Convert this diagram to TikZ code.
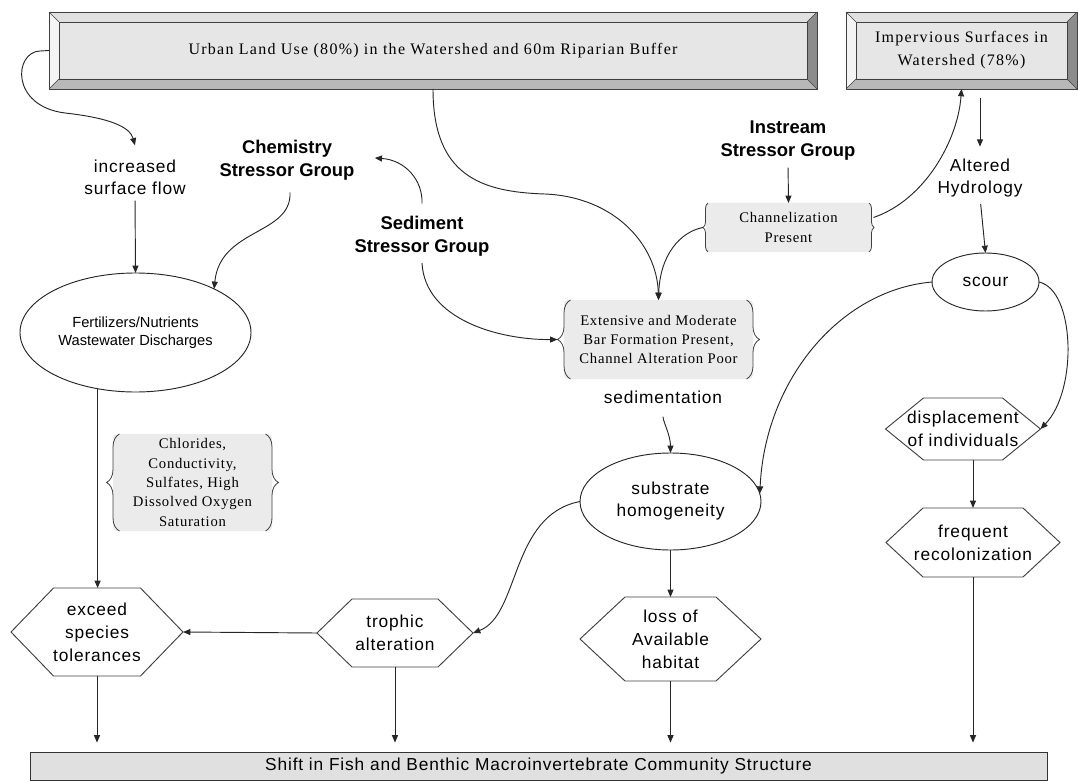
\documentclass[tikz,border=0pt]{standalone}
\usepackage{fontspec}
\setmainfont{Liberation Serif}
\newfontfamily\serifsp[LetterSpace=8]{Liberation Serif}
\newfontfamily\serifbr[LetterSpace=5]{Liberation Serif}
\newfontfamily\sanssp[LetterSpace=5]{Liberation Sans}
\newfontfamily\sansn{Liberation Sans}
\usetikzlibrary{shapes.geometric,arrows.meta,decorations.pathreplacing}

\definecolor{face}{HTML}{E6E6E6}
\definecolor{bvtop}{HTML}{E0E0E0}
\definecolor{bvleft}{HTML}{F4F4F4}
\definecolor{bvright}{HTML}{8C8C8C}
\definecolor{bvbot}{HTML}{B8B8B8}
\definecolor{brfill}{HTML}{EBEBEB}
\definecolor{barfill}{HTML}{E0E0E0}
\definecolor{edge}{HTML}{404040}

\tikzset{
 arr/.style={-{Triangle[length=5.5pt,width=4.5pt]}, line width=0.7pt, draw=black!85},
 lbl/.style={font=\fontsize{13}{16.5}\selectfont\sanssp, align=center, inner sep=0pt},
 grp/.style={font=\fontsize{13.8}{17.25}\selectfont\sansn\bfseries, align=center, inner sep=0pt},
 bevelbox/.style={fill=face, inner sep=0pt, outer sep=0pt, font=\fontsize{12}{17.25}\selectfont\serifsp, align=center},
 bracebox/.style={fill=brfill, rounded corners=3pt, inner sep=0pt, outer sep=0pt, font=\fontsize{11}{14.5}\selectfont\serifbr, align=center},
 ell/.style={ellipse, draw=black!85, line width=0.7pt, inner sep=0pt, outer sep=0pt, align=center},
 hexnode/.style={inner sep=0pt, outer sep=0pt, align=center, font=\fontsize{13}{17.25}\selectfont\sanssp},
 hexline/.style={draw=edge, line width=0.7pt, line join=miter},
 bracestroke/.style={draw=black!75, line width=0.6pt, decorate},
}

\newcommand\bevelframe[1]{%
 \fill[bvtop] (#1.north west) -- (#1.north east) -- ([shift={(-7.5pt,-7.5pt)}]#1.north east) -- ([shift={(7.5pt,-7.5pt)}]#1.north west) -- cycle;
 \fill[bvleft] (#1.north west) -- ([shift={(7.5pt,-7.5pt)}]#1.north west) -- ([shift={(7.5pt,7.5pt)}]#1.south west) -- (#1.south west) -- cycle;
 \fill[bvright] (#1.north east) -- ([shift={(-7.5pt,-7.5pt)}]#1.north east) -- ([shift={(-7.5pt,7.5pt)}]#1.south east) -- (#1.south east) -- cycle;
 \fill[bvbot] (#1.south west) -- ([shift={(7.5pt,7.5pt)}]#1.south west) -- ([shift={(-7.5pt,7.5pt)}]#1.south east) -- (#1.south east) -- cycle;
 \draw[edge, line width=0.6pt] (#1.north west) rectangle (#1.south east);
 \draw[edge, line width=0.6pt] ([shift={(7.5pt,-7.5pt)}]#1.north west) rectangle ([shift={(-7.5pt,7.5pt)}]#1.south east);
 \draw[edge, line width=0.5pt] (#1.north west) -- ([shift={(7.5pt,-7.5pt)}]#1.north west)
   (#1.north east) -- ([shift={(-7.5pt,-7.5pt)}]#1.north east)
   (#1.south west) -- ([shift={(7.5pt,7.5pt)}]#1.south west)
   (#1.south east) -- ([shift={(-7.5pt,7.5pt)}]#1.south east);
}
\newcommand\bracepair[2]{%
 \draw[bracestroke, decoration={brace, amplitude=#2}] ([xshift=0.5*#2]#1.south west) -- ([xshift=0.5*#2]#1.north west);
 \draw[bracestroke, decoration={brace, amplitude=#2}] ([xshift=-0.5*#2]#1.north east) -- ([xshift=-0.5*#2]#1.south east);
}
\newcommand\hexframe[2]{%
 \draw[hexline] (#1.west) -- ([xshift=#2]#1.north west) -- ([xshift=-#2]#1.north east) -- (#1.east) -- ([xshift=-#2]#1.south east) -- ([xshift=#2]#1.south west) -- cycle;
}

\begin{document}
\begin{tikzpicture}[x=0.75pt, y=-0.75pt]
\useasboundingbox (0,0) rectangle (1078,781);

% top boxes
\node[bevelbox, minimum width=576pt, minimum height=57.75pt] (urban) at (433,50.5) {Urban Land Use (80\%) in the Watershed and 60m Riparian Buffer};
\bevelframe{urban}
\node[bevelbox, minimum width=173.25pt, minimum height=57.75pt] (imperv) at (961.5,50.5) {Impervious Surfaces in\\Watershed (78\%)};
\bevelframe{imperv}

% labels
\node[lbl] (incr) at (135,177) {increased\\surface flow};
\node[grp] (chem) at (287,160) {Chemistry\\Stressor Group};
\node[grp] (instream) at (788,141) {Instream\\Stressor Group};
\node[grp] (sediment) at (422,236) {Sediment\\Stressor Group};
\node[lbl] (altered) at (980,178) {Altered\\Hydrology};
\node[lbl] (sedlab) at (663,397) {sedimentation};

% bracket boxes
\node[bracebox, minimum width=124.5pt, minimum height=36.75pt] (chan) at (788.5,227.5) {Channelization\\Present};
\bracepair{chan}{4pt}
\node[bracebox, minimum width=141.75pt, minimum height=59.25pt] (ext) at (658.5,339.5) {Extensive and Moderate\\Bar Formation Present,\\Channel Alteration Poor};
\bracepair{ext}{9.75pt}
\node[bracebox, minimum width=119.25pt, minimum height=72.75pt] (chl) at (192.5,482.5) {Chlorides,\\Conductivity,\\Sulfates, High\\Dissolved Oxygen\\Saturation};
\bracepair{chl}{9.75pt}

% ellipses
\node[ell, minimum width=173.25pt, minimum height=89.25pt, font=\fontsize{11}{13.5}\selectfont\sansn] (fert) at (135.5,332.5) {Fertilizers/Nutrients\\Wastewater Discharges};
\node[ell, minimum width=80.25pt, minimum height=43.5pt, font=\fontsize{13}{16.5}\selectfont\sanssp] (scour) at (985.5,282) {scour};
\node[ell, minimum width=135.75pt, minimum height=72.75pt, font=\fontsize{13}{16.5}\selectfont\sanssp] (subst) at (670.5,501.5) {substrate\\homogeneity};

% hexagons
\node[hexnode, minimum width=116.25pt, minimum height=46.5pt] (disp) at (963,429) {displacement\\of individuals};
\hexframe{disp}{28.5pt}
\node[hexnode, minimum width=130.5pt, minimum height=51.75pt] (freq) at (973,542.5) {frequent\\recolonization};
\hexframe{freq}{27.75pt}
\node[hexnode, minimum width=129pt, minimum height=66pt] (exceed) at (97,632) {exceed\\species\\tolerances};
\hexframe{exceed}{31.9pt}
\node[hexnode, minimum width=117pt, minimum height=51pt] (trophic) at (395,633) {trophic\\alteration};
\hexframe{trophic}{26.25pt}
\node[hexnode, minimum width=135.75pt, minimum height=63pt] (loss) at (670.5,639) {loss of\\Available\\habitat};
\hexframe{loss}{33.75pt}

% bottom bar
\node[draw=black!80, fill=barfill, line width=0.7pt, minimum width=762.75pt, minimum height=21.4pt, inner sep=0pt, font=\fontsize{13}{15}\selectfont\sanssp] (bar) at (538.5,766.3) {Shift in Fish and Benthic Macroinvertebrate Community Structure};

% connectors
\draw[arr] (urban.west) -- (40,51) .. controls (14,52) and (10,106) .. (65,113) .. controls (110,118) and (130,127) .. ([yshift=10.5pt]incr.north);
\draw[arr, shorten <=4.5pt] (incr.south) -- (fert.north);
\draw[arr] ([shift={(2.25pt,-9pt)}]chem.south) .. controls (292,235) and (220,228) .. (fert.29);
\draw[arr] ([yshift=9pt]sediment.north) .. controls (423,180) and (405,160) .. ([shift={(15pt,1.5pt)}]chem.east);
\draw[arr] ([yshift=-5pt]sediment.south) .. controls (425,320) and (500,340) .. ([xshift=-4.9pt]ext.west);
\draw[arr] (urban.south) .. controls (433,175) and (480,192) .. (545,194) .. controls (615,197) and (657,245) .. (ext.north);
\draw[arr] ([xshift=-2pt]chan.west) .. controls (680,232) and (660,255) .. (ext.north);
\draw[arr, shorten <=5pt] (instream.south) -- (chan.north);
\draw[arr] ([shift={(1.5pt,7.5pt)}]chan.east) .. controls (925,200) and (958,140) .. (imperv.south);
\draw[arr, shorten <=6.75pt, shorten >=9pt] (imperv.south -| altered.north) -- (altered.north);
\draw[arr, shorten <=5pt] (altered.south) -- (scour.north);
\draw[arr] (scour.west) .. controls (840,290) and (765,380) .. (subst.5);
\draw[arr] (scour.east) .. controls (1075,290) and (1078,390) .. (disp.east);
\draw[arr] (freq.north |- disp.south) -- (freq.north);
\draw[arr, shorten <=9.75pt] (sedlab.south) .. controls +(0,18) and +(0,-18) .. (subst.north);
\draw[arr] (subst.south) -- (loss.north);
\draw[arr] (subst.west) .. controls (510,515) and (520,615) .. (trophic.east);
\draw[arr] (trophic.west) -- (exceed.east);
\draw[arr] (fert.236) -- (fert.236 |- exceed.north);
\foreach \n in {exceed,trophic,loss,freq}
  \draw[arr, shorten >=6.75pt] (\n.south) -- (\n.south |- bar.north);
\end{tikzpicture}
\end{document}
